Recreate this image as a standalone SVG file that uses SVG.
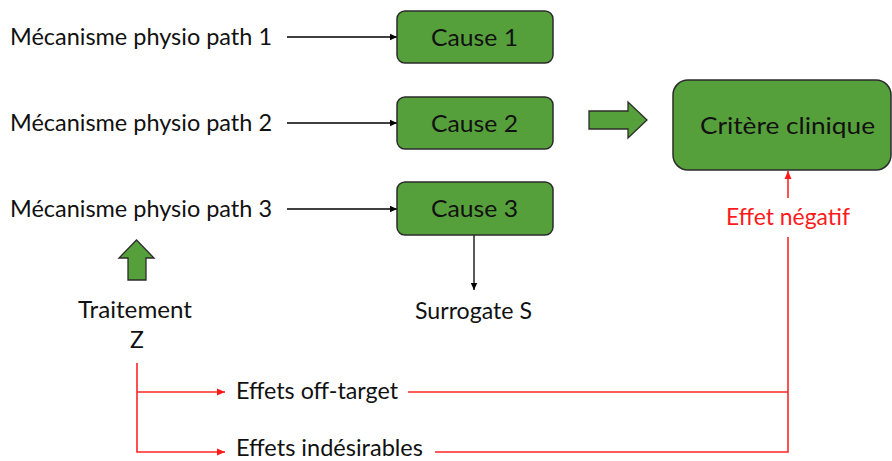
<svg xmlns="http://www.w3.org/2000/svg" width="892" height="461" viewBox="0 0 892 461">
<style>
text{font-family:Lato,"Liberation Sans",sans-serif;font-size:23px;fill:#111}
.red{fill:#ff1a1a}
.box{fill:#56a03b;stroke:#2b2b2b;stroke-width:1.5}
.blk{fill:#56a03b;stroke:#2b2b2b;stroke-width:1.3}
.k{stroke:#000;stroke-width:1.3;fill:none}
.r{stroke:#ff2626;stroke-width:1.6;fill:none}
</style>
<defs>
<marker id="ak" markerWidth="8" markerHeight="8" refX="7" refY="4" orient="auto" markerUnits="userSpaceOnUse"><path d="M0,0.8 L7,4 L0,7.2 z" fill="#000"/></marker>
<marker id="ar" markerWidth="9" markerHeight="9" refX="8" refY="4.5" orient="auto" markerUnits="userSpaceOnUse"><path d="M0,1 L8,4.5 L0,8 z" fill="#ff1a1a"/></marker>
</defs>
<rect width="892" height="461" fill="#fff"/>
<g id="connectors">
<line class="k" x1="287" y1="37" x2="397" y2="37" marker-end="url(#ak)"/>
<line class="k" x1="287" y1="123" x2="397" y2="123" marker-end="url(#ak)"/>
<line class="k" x1="287" y1="209" x2="397" y2="209" marker-end="url(#ak)"/>
<line class="k" x1="474" y1="235" x2="474" y2="290" marker-end="url(#ak)"/>
<path class="blk" d="M589,111 H628 V102 L647,120 L628,138 V129 H589 Z"/>
<path class="blk" d="M128,280 V258 H119 L136.5,240 L154,258 H146 V280 Z"/>
<path class="r" d="M137,363 V452 H225" marker-end="url(#ar)"/>
<path class="r" d="M137,392 H225" marker-end="url(#ar)"/>
<path class="r" d="M408,392 H788"/>
<path class="r" d="M435,452 H788 V237"/>
<line class="r" x1="788" y1="198" x2="788" y2="171" marker-end="url(#ar)"/>
</g>
<g id="mech1"><text x="10" y="45" textLength="262" lengthAdjust="spacingAndGlyphs">Mécanisme physio path 1</text></g>
<g id="mech2"><text x="10" y="131" textLength="262" lengthAdjust="spacingAndGlyphs">Mécanisme physio path 2</text></g>
<g id="mech3"><text x="10" y="217" textLength="262" lengthAdjust="spacingAndGlyphs">Mécanisme physio path 3</text></g>
<g id="cause1"><rect class="box" x="397" y="11" width="156" height="52" rx="8"/><text x="431" y="46" textLength="87" lengthAdjust="spacingAndGlyphs">Cause 1</text></g>
<g id="cause2"><rect class="box" x="397" y="97" width="156" height="52" rx="8"/><text x="431" y="132" textLength="87" lengthAdjust="spacingAndGlyphs">Cause 2</text></g>
<g id="cause3"><rect class="box" x="397" y="182" width="156" height="53" rx="8"/><text x="431" y="217" textLength="87" lengthAdjust="spacingAndGlyphs">Cause 3</text></g>
<g id="critere"><rect class="box" x="673" y="80" width="218" height="90" rx="15"/><text x="700" y="134" textLength="175" lengthAdjust="spacingAndGlyphs">Critère clinique</text></g>
<g id="effet-negatif"><text class="red" x="726" y="225" textLength="124" lengthAdjust="spacingAndGlyphs">Effet négatif</text></g>
<g id="traitement"><text x="78" y="318" textLength="114" lengthAdjust="spacingAndGlyphs">Traitement</text><text x="137" y="348" text-anchor="middle">Z</text></g>
<g id="surrogate"><text x="415" y="319" textLength="117" lengthAdjust="spacingAndGlyphs">Surrogate S</text></g>
<g id="offtarget"><text x="236" y="399" textLength="162" lengthAdjust="spacingAndGlyphs">Effets off-target</text></g>
<g id="indesirables"><text x="236" y="456" font-size="22" textLength="187" lengthAdjust="spacingAndGlyphs">Effets indésirables</text></g>
</svg>
